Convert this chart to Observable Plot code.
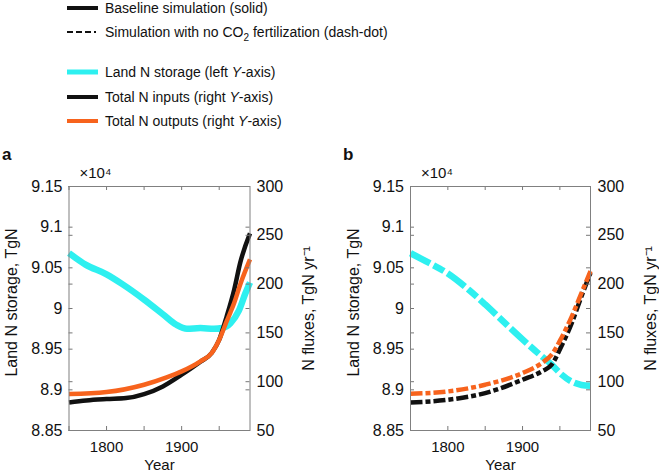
<!DOCTYPE html>
<html><head><meta charset="utf-8">
<script src="https://cdn.jsdelivr.net/npm/d3@7"></script>
<script src="https://cdn.jsdelivr.net/npm/@observablehq/plot@0.6"></script>
<style>
body{margin:0;background:#fff;font-family:"Liberation Sans",Arial,Helvetica,sans-serif;}
#root{position:relative;width:659px;height:474px;overflow:hidden;background:#fff;}
.panel{position:absolute;top:140px;height:334px;}
.panel svg{max-width:none !important;display:block;}
.leg{position:absolute;left:105px;font-size:14px;color:#111;white-space:nowrap;line-height:16px;}
.sw{position:absolute;left:67px;width:31px;}
.plabel{position:absolute;top:145px;font-size:17px;font-weight:bold;color:#111;z-index:5;}
</style></head><body><div id="root">
<svg class="sw" style="top:4px;height:8px"><line x1="0" x2="31" y1="4" y2="4" stroke="#111" stroke-width="4"/></svg>
<div class="leg" style="top:0px">Baseline simulation (solid)</div>
<svg class="sw" style="top:28px;height:8px"><line x1="0" x2="31" y1="4" y2="4" stroke="#111" stroke-width="2" stroke-dasharray="6,3,6,3,6,3,2,3"/></svg>
<div class="leg" style="top:24px">Simulation with no CO<sub style="font-size:10px;line-height:0">2</sub> fertilization (dash-dot)</div>
<svg class="sw" style="top:68px;height:8px"><line x1="0" x2="31" y1="4" y2="4" stroke="#2ef0f0" stroke-width="5"/></svg>
<div class="leg" style="top:64px">Land N storage (left <i>Y</i>-axis)</div>
<svg class="sw" style="top:93px;height:8px"><line x1="0" x2="31" y1="4" y2="4" stroke="#111" stroke-width="4"/></svg>
<div class="leg" style="top:89px">Total N inputs (right <i>Y</i>-axis)</div>
<svg class="sw" style="top:117px;height:8px"><line x1="0" x2="31" y1="4" y2="4" stroke="#f7631d" stroke-width="4"/></svg>
<div class="leg" style="top:113px">Total N outputs (right <i>Y</i>-axis)</div>
<div id="pa" class="panel" style="left:0px;width:330px"></div>
<div id="pb" class="panel" style="left:330px;width:329px"></div>
<div class="plabel" style="left:2px">a</div>
<div class="plabel" style="left:343px">b</div>
</div>
<script>
// ---- Data ----
// Panel a: baseline simulation
const storageYearsA = [1750, 1772, 1800, 1821, 1850, 1875, 1893, 1907, 1925, 1943, 1954, 1965, 1976, 1985, 1991];
const storageA      = [9.068, 9.054, 9.042, 9.030, 9.011, 8.993, 8.980, 8.975, 8.976, 8.975, 8.976, 8.982, 8.997, 9.019, 9.032];
const inputYearsA   = [1750, 1773, 1800, 1826, 1850, 1875, 1900, 1925, 1940, 1950, 1960, 1970, 1978, 1991];
const inputsA       = [78.7, 80.8, 82.2, 83.2, 87.3, 95.2, 107.2, 120.5, 129.4, 143, 167, 194.5, 222, 252];
const outputYearsA  = [1750, 1800, 1850, 1880, 1900, 1925, 1940, 1950, 1960, 1970, 1978, 1991];
const outputsA      = [87.3, 89.4, 96.9, 104.4, 110.6, 120.9, 129.4, 143, 162, 180.8, 199.6, 225.3];
// Panel b: no CO2 fertilization
const storageYearsB = [1750, 1775, 1800, 1828, 1850, 1872, 1900, 1926, 1939, 1952, 1966, 1979, 1991];
const storageB      = [9.068, 9.056, 9.043, 9.023, 9.005, 8.986, 8.962, 8.941, 8.931, 8.919, 8.910, 8.906, 8.905];
const inputYearsB   = [1750, 1800, 1850, 1900, 1926, 1939, 1952, 1966, 1979, 1991];
const inputsB       = [78.7, 81.5, 88.3, 102, 110.6, 117.4, 136.3, 160.3, 187.7, 211.6];
const outputYearsB  = [1750, 1800, 1850, 1900, 1926, 1939, 1952, 1966, 1979, 1991];
const outputsB      = [87.6, 90.0, 96.9, 108.9, 119.2, 127.7, 144.8, 167, 191, 213.3];
// Axes
const xDomain = [1750, 1991];
const xTickValues = [1750, 1800, 1850, 1900, 1950];
const xLabelValues = [1800, 1900];
const leftDomain = [8.85, 9.15];
const leftTicks = [8.85, 8.9, 8.95, 9, 9.05, 9.1, 9.15];
const leftTickLabels = ["8.85", "8.9", "8.95", "9", "9.05", "9.1", "9.15"];
const rightDomain = [50, 300];
const rightTicks = [50, 100, 150, 200, 250, 300];

const cCyan = "#2ef0f0", cBlack = "#111111", cOrange = "#f7631d";
// map right-axis values into the left-axis scale
const toLeft = f => leftDomain[0] + (f - rightDomain[0]) / (rightDomain[1] - rightDomain[0]) * (leftDomain[1] - leftDomain[0]);

function panel(opts) {
  const {width, ml, mr, sY, sV, iY, iV, oY, oV, dashed, rightDx, rightLabelDx} = opts;
  const mt = 46, mb = 44, height = 334;
  const fw = width - ml - mr, fh = height - mt - mb;
  const tk = 4;
  const storage = sY.map((y, i) => ({year: y, v: sV[i]}));
  const inputs = iY.map((y, i) => ({year: y, v: toLeft(iV[i])}));
  const outputs = oY.map((y, i) => ({year: y, v: toLeft(oV[i])}));
  const rightT = rightTicks.map(toLeft);
  const dashLine = dashed ? "12,3,5,3" : null;
  const dashCyan = dashed ? "22,4,12,4" : null;
  const allY = leftTicks.concat(rightT);
  return Plot.plot({
    width, height, marginLeft: ml, marginRight: mr, marginTop: mt, marginBottom: mb,
    x: {domain: xDomain, axis: null},
    y: {domain: leftDomain, axis: null},
    style: {fontFamily: "'Liberation Sans', Arial, sans-serif", fontSize: "16px", color: "#111", background: "white", overflow: "visible"},
    marks: [
      Plot.line(storage, {x: "year", y: "v", stroke: cCyan, strokeWidth: 6.5, curve: "monotone-x", strokeDasharray: dashCyan, strokeLinecap: "butt", strokeLinejoin: "round"}),
      Plot.line(inputs, {x: "year", y: "v", stroke: cBlack, strokeWidth: 4.5, curve: "monotone-x", strokeDasharray: dashLine, strokeLinecap: "butt", strokeLinejoin: "round"}),
      Plot.line(outputs, {x: "year", y: "v", stroke: cOrange, strokeWidth: 4.5, curve: "monotone-x", strokeDasharray: dashLine, strokeLinecap: "butt", strokeLinejoin: "round"}),
      // inward ticks on all four sides
      Plot.tickY(allY, {y: d => d, insetRight: fw - tk, stroke: "#777"}),
      Plot.tickY(allY, {y: d => d, insetLeft: fw - tk, stroke: "#777"}),
      Plot.tickX(xTickValues, {x: d => d, insetBottom: fh - tk, stroke: "#777"}),
      Plot.tickX(xTickValues, {x: d => d, insetTop: fh - tk, stroke: "#777"}),
      Plot.frame({stroke: "#808080", strokeWidth: 1}),
      // tick labels
      Plot.text(leftTicks, {y: d => d, frameAnchor: "left", dx: -6.5, textAnchor: "end", lineAnchor: "middle", text: (d, i) => leftTickLabels[i], fontSize: 16}),
      Plot.text(rightTicks, {y: d => toLeft(d), frameAnchor: "right", dx: rightDx, textAnchor: "start", lineAnchor: "middle", text: d => String(d), fontSize: 16}),
      Plot.text(xLabelValues, {x: d => d, frameAnchor: "bottom", dy: 17, textAnchor: "middle", lineAnchor: "middle", text: d => String(d), fontSize: 15}),
      // axis titles
      Plot.text(["Year"], {frameAnchor: "bottom", dy: 35, textAnchor: "middle", lineAnchor: "middle", fontSize: 15}),
      Plot.text(["Land N storage, TgN"], {frameAnchor: "left", rotate: -90, dx: -57, dy: -6, textAnchor: "middle", lineAnchor: "middle", fontSize: 16}),
      Plot.text(["N fluxes, TgN yr\u207B\u00B9"], {frameAnchor: "right", rotate: -90, dx: rightLabelDx, dy: 0, textAnchor: "middle", lineAnchor: "middle", fontSize: 16}),
      Plot.text(["\u00D710\u2074"], {frameAnchor: "top-left", dx: 10.5, dy: -13, textAnchor: "start", lineAnchor: "middle", fontSize: 15})
    ]
  });
}

document.getElementById("pa").append(panel({width: 330, ml: 68.5, mr: 80.5, sY: storageYearsA, sV: storageA, iY: inputYearsA, iV: inputsA, oY: outputYearsA, oV: outputsA, dashed: false, rightDx: 6.5, rightLabelDx: 58.5}));
document.getElementById("pb").append(panel({width: 329, ml: 80, mr: 69, sY: storageYearsB, sV: storageB, iY: inputYearsB, iV: inputsB, oY: outputYearsB, oV: outputsB, dashed: true, rightDx: 7, rightLabelDx: 60}));
</script>
</body></html>
